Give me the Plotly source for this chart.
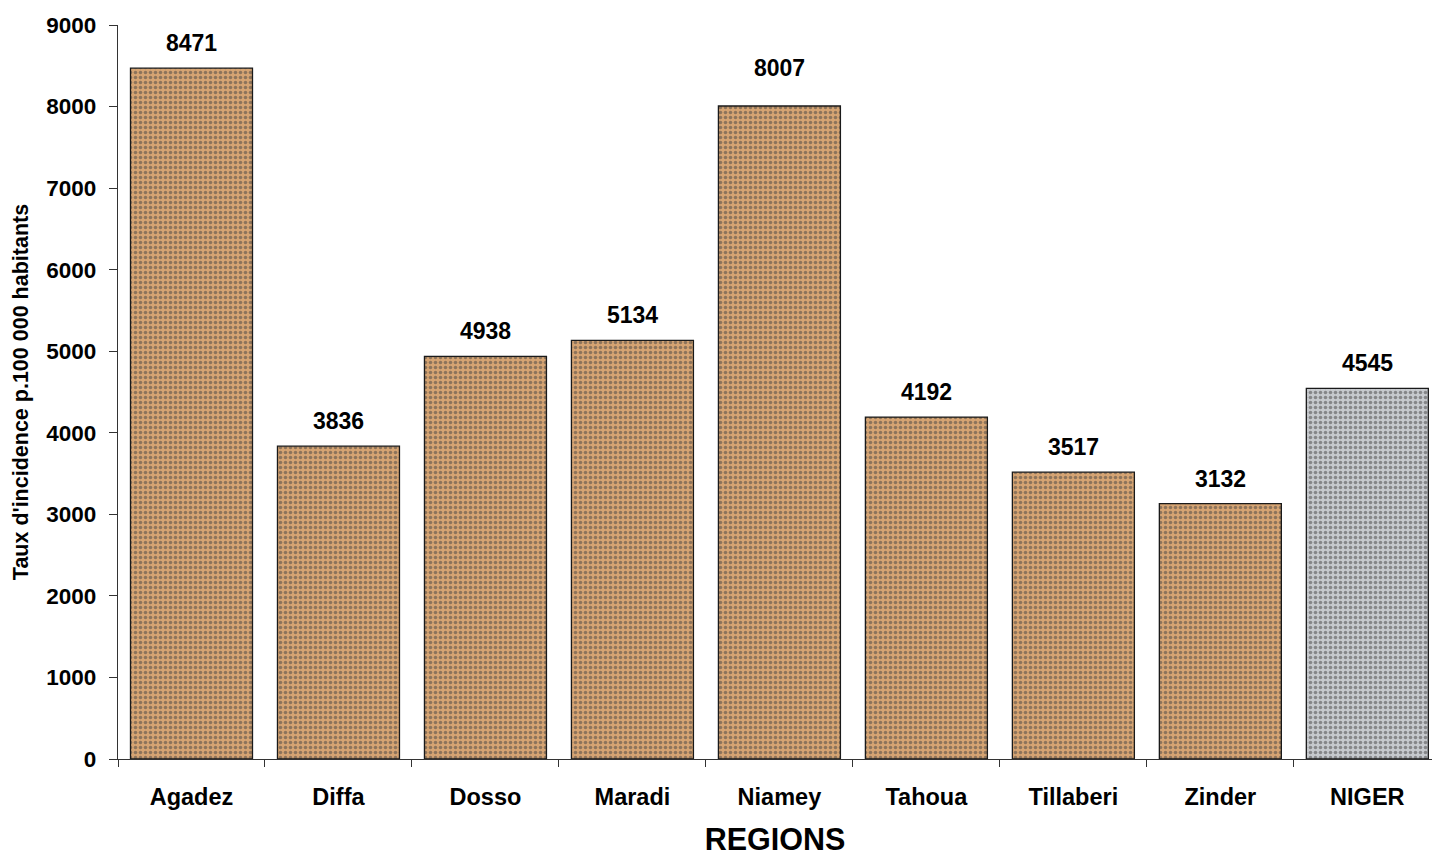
import plotly.graph_objects as go

# Incidence rate per 100 000 inhabitants, by region
regions = ["Agadez", "Diffa", "Dosso", "Maradi", "Niamey",
           "Tahoua", "Tillaberi", "Zinder", "NIGER"]
incidence = [8471, 3836, 4938, 5134, 8007, 4192, 3517, 3132, 4545]

# Regional bars in cork brown, national bar in granite grey
base_colors = ["#D6A472"] * 8 + ["#C6C9CD"]
speck_colors = ["rgba(150,88,42,0.5)"] * 8 + ["rgba(80,83,88,0.6)"]

font_family = "Liberation Sans, Arial, sans-serif"

fig = go.Figure()
fig.add_trace(go.Bar(
    x=regions,
    y=incidence,
    marker=dict(
        color=base_colors,
        line=dict(color="#1a1a1a", width=1.3),
        pattern=dict(
            shape=".",
            fgcolor=speck_colors,
            bgcolor=base_colors,
            size=5,
            solidity=0.4,
        ),
    ),
    width=0.83,
    hoverinfo="x+y",
))

# Value labels above each bar (the Niamey label sits a little higher)
label_lift = {"Niamey": 13}
for r, v in zip(regions, incidence):
    fig.add_annotation(
        x=r, y=v, text=f"<b>{v}</b>", showarrow=False,
        yanchor="bottom", yshift=10 + label_lift.get(r, 0),
        font=dict(family=font_family, size=23, color="#000000"),
    )

fig.update_layout(
    width=1432, height=856,
    margin=dict(l=118, r=0, t=25, b=97),
    paper_bgcolor="#ffffff",
    plot_bgcolor="#ffffff",
    showlegend=False,
    font=dict(family=font_family, color="#000000"),
)

fig.update_xaxes(
    range=[-0.5, 8.44],
    showline=True, linecolor="#333333", linewidth=1.3,
    ticks="outside", tickson="boundaries", ticklen=7,
    tickcolor="#333333", tickwidth=1.3,
    tickfont=dict(family=font_family, size=23.5, color="#000000", weight="bold"),
    ticklabelstandoff=17,
    showgrid=False, zeroline=False,
    title=dict(text="<b>REGIONS</b>",
               font=dict(family=font_family, size=30.5, color="#000000"),
               standoff=24),
)

fig.update_yaxes(
    range=[0, 9000], dtick=1000,
    showline=True, linecolor="#333333", linewidth=1.3,
    ticks="outside", ticklen=8, tickcolor="#333333", tickwidth=1.3,
    tickfont=dict(family=font_family, size=22.5, color="#000000", weight="bold"),
    ticklabelstandoff=8,
    showgrid=False, zeroline=False,
    title=dict(text="<b>Taux d'incidence p.100 000 habitants</b>",
               font=dict(family=font_family, size=21.5, color="#000000"),
               standoff=11),
)

fig.write_html("out.html")
